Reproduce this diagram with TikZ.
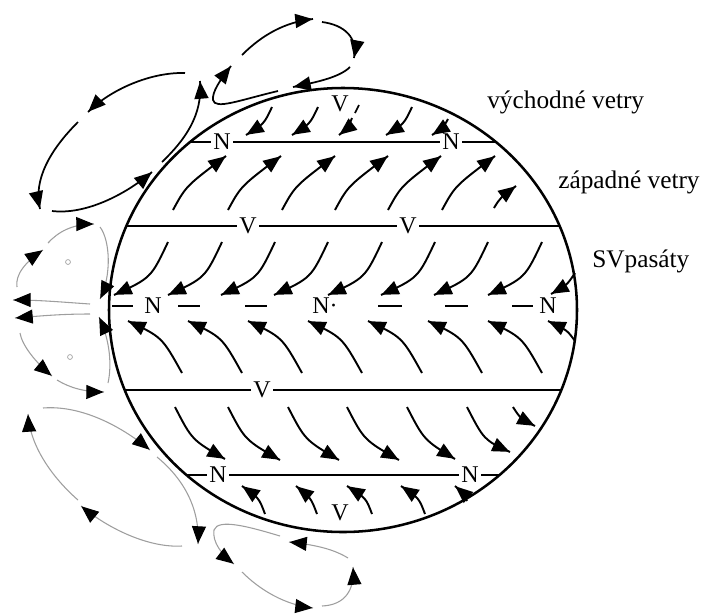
\documentclass[tikz,border=0pt]{standalone}
\usepackage{fontspec}
\setmainfont{Liberation Serif}
\usetikzlibrary{arrows.meta,decorations.markings}
\begin{document}
\begin{tikzpicture}[x=0.75pt,y=-0.75pt,
  tip/.tip={Triangle[length=13pt,width=10.5pt]},
  headed/.style={postaction={decorate},
    decoration={markings, mark=at position -0.3pt with {\arrow[black]{tip}}}},
  wind/.style={line width=1.45pt, headed},
  cellblack/.style={line width=1.3pt, headed},
  cellgray/.style={line width=0.8pt, draw=black!38, headed},
  belt/.style={line width=1.7pt},
  lbl/.style={font=\fontsize{18}{18}\selectfont, fill=white, inner sep=1.5pt},
  zone/.style={font=\fontsize{19}{19}\selectfont, anchor=base west, inner sep=0pt}
]
\useasboundingbox (0,0) rectangle (710,615);

% globe
\draw[line width=1.9pt] (343,310) ellipse [x radius=234, y radius=222];

% pressure belts
\draw[belt] (190,142) -- (496,142);
\draw[belt] (126,226) -- (560,226);
\draw[belt] (125,390) -- (561,390);
\draw[belt] (186,475) -- (500,475);
\foreach \a/\b in {112/133,178/200,245/267,378/402,445/468,512/533}
  \draw[belt] (\a,306) -- (\b,306);

\node[lbl] (n1) at (222,142) {N};
\node[lbl] (n2) at (451,142) {N};
\node[lbl] (v0) at (340,104) {V};
\node[lbl] (v1) at (248,226) {V};
\node[lbl] (v2) at (408,226) {V};
\node[lbl] (n3) at (153,306) {N};
\node[lbl] (n4) at (325,306) {N·};
\node[lbl] (n5) at (548,306) {N};
\node[lbl] (v3) at (262,390) {V};
\node[lbl] (n6) at (218,475) {N};
\node[lbl] (n7) at (470,475) {N};
\node[lbl] (v4) at (340,513) {V};

% zone names
\node[zone] (z1) at (487,108) {východné vetry};
\node[zone] (z2) at (558,188) {západné vetry};
\node[zone] (z3) at (592,267) {SVpasáty};

% polar easterlies
\foreach \x in {272,318,412}
  \draw[wind] (\x,107) .. controls (\x-8,124) .. (\x-26,135);
\draw[line width=1.3pt] (359,105) -- (355,113);
\draw[wind] (352,118) .. controls (348,128) .. (339,135);
\draw[wind] (448,119) .. controls (443,128) .. (432,135);

% westerlies
\foreach \x in {173,228,282,335,388,442}
  \draw[wind] (\x,210) .. controls (\x+13,186) .. (\x+53,156);
\draw[wind] (494,208) .. controls (500,198) .. (516,186);

% north-east trades
\foreach \x in {168,222,275,328,382,435,488,542}
  \draw[wind] (\x,242) .. controls (\x-17,278) .. (\x-54,295);
\draw[wind] (575,273) .. controls (567,285) .. (551,294);

% south-east trades
\foreach \x in {182,242,302,362,422,482,542}
  \draw[wind] (\x,373) .. controls (\x-20,337) .. (\x-54,321);
\draw[wind] (575,341) .. controls (567,330) .. (548,321);

% southern westerlies
\foreach \a/\b/\c in {175/225/459,228/280/460,288/339/460,347/399/460,407/455/459,467/510/452}
  \draw[wind] (\a,407) .. controls (\a+17,440) .. (\b,\c);
\draw[wind] (513,407) .. controls (520,418) .. (535,426);

% southern easterlies
\foreach \a/\b in {265/242,317/296,372/347,425/401}
  \draw[wind] (\a,514) .. controls (\a-6,498) .. (\b,486);
\draw[wind] (467,501) .. controls (462,492) .. (455,486);

% polar cell (large)
\draw[cellblack] (185,73) .. controls (150,72) and (110,90) .. (88,112);
\draw[cellblack] (78,122) .. controls (50,150) and (33,180) .. (40,209);
\draw[cellblack] (52,211) .. controls (85,215) and (125,195) .. (152,172);
\draw[cellblack] (162,162) .. controls (185,140) and (203,115) .. (200,81);

% polar cell (upper)
\draw[cellblack] (242,55) .. controls (262,35) and (285,22) .. (313,19);
\draw[cellblack] (322,22) .. controls (345,25) and (358,38) .. (354,58);
\draw[cellblack] (350,67) .. controls (340,77) and (318,82) .. (293,87);
\draw[cellblack] (278,91) .. controls (240,100) and (215,110) .. (213,100)
  .. controls (212,92) and (220,80) .. (231,66);

% equatorial cells
\draw[cellgray] (17,287) .. controls (15,275) and (25,262) .. (43,250);
\draw[cellgray] (48,243) .. controls (58,232) and (72,224) .. (94,224);
\draw[cellgray] (100,227) .. controls (110,240) and (112,275) .. (100,299);
\draw[cellgray] (90,304) .. controls (60,302) and (40,300) .. (13,300);
\draw[cellgray] (90,314) .. controls (60,314) and (40,316) .. (15,318);
\draw[cellgray] (20,333) .. controls (22,345) and (35,362) .. (52,376);
\draw[cellgray] (57,380) .. controls (70,388) and (85,392) .. (104,392);
\draw[cellgray] (108,383) .. controls (112,365) and (110,340) .. (99,317);
\node[circle, draw=black!38, line width=0.5pt, inner sep=1.3pt] (o1) at (68,262) {};
\node[circle, draw=black!38, line width=0.5pt, inner sep=1.3pt] (o2) at (70,357) {};

% southern cells
\draw[cellgray] (43,408) .. controls (80,405) and (120,425) .. (150,450);
\draw[cellgray] (157,457) .. controls (185,480) and (200,510) .. (198,544);
\draw[cellgray] (182,546) .. controls (150,548) and (110,530) .. (81,506);
\draw[cellgray] (78,500) .. controls (55,480) and (30,448) .. (28,414);
\draw[cellgray] (348,558) .. controls (335,550) and (318,545) .. (289,542);
\draw[cellgray] (280,536) .. controls (250,527) and (218,518) .. (214,530)
  .. controls (212,542) and (222,555) .. (234,564);
\draw[cellgray] (242,572) .. controls (260,590) and (285,605) .. (313,608);
\draw[cellgray] (322,606) .. controls (345,605) and (355,590) .. (353,567);
\end{tikzpicture}
\end{document}
